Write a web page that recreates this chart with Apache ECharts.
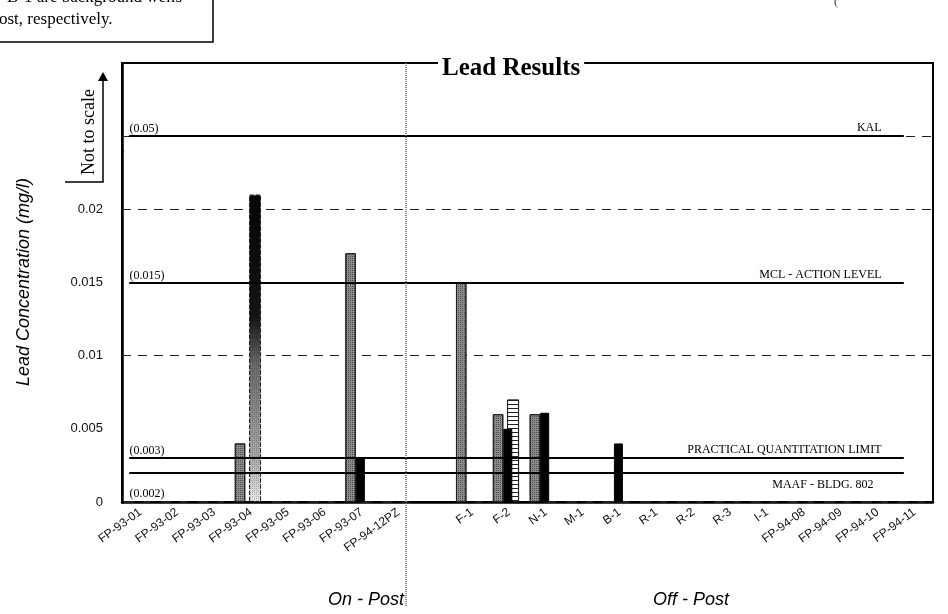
<!DOCTYPE html>
<html>
<head>
<meta charset="utf-8">
<script src="https://cdn.jsdelivr.net/npm/echarts@6/dist/echarts.min.js"></script>
<style>
  html, body { margin: 0; padding: 0; background: #fff; }
  #chart { width: 948px; height: 614px; }
</style>
</head>
<body>
<div id="chart"></div>
<script>
// Monitoring wells; the blank entry separates on-post from off-post wells
const wells = ['FP-93-01', 'FP-93-02', 'FP-93-03', 'FP-93-04', 'FP-93-05', 'FP-93-06', 'FP-93-07', 'FP-94-12PZ', '',
  'F-1', 'F-2', 'N-1', 'M-1', 'B-1', 'R-1', 'R-2', 'R-3', 'I-1', 'FP-94-08', 'FP-94-09', 'FP-94-10', 'FP-94-11'];

// Lead concentrations (mg/l), three sampling rounds
const roundStippled = [0, 0, 0, 0.004, 0, 0, 0.017, 0, null, 0.015, 0.006, 0.006, 0, 0, 0, 0, 0, 0, 0, 0, 0, 0];
const roundSolid    = [0, 0, 0, 0, 0, 0, 0.003, 0, null, 0, 0.005, 0.0061, 0, 0.004, 0, 0, 0, 0, 0, 0, 0, 0];
const roundStriped  = [0, 0, 0, 0.021, 0, 0, 0, 0, null, 0, 0.007, 0, 0, 0, 0, 0, 0, 0, 0, 0, 0, 0];

// Regulatory / reference levels (mg/l)
const limitValues = [0.05, 0.015, 0.003, 0.002];
const limitTags   = ['(0.05)', '(0.015)', '(0.003)', '(0.002)'];
const limitNames  = ['KAL', 'MCL - ACTION LEVEL', 'PRACTICAL QUANTITATION LIMIT', 'MAAF - BLDG. 802'];

// Labelled y ticks and dashed reference grid (the range above 0.02 is drawn "not to scale")
const yTickLabels = ['0', '0.005', '0.01', '0.015', '0.02'];
const gridValues = [0.005, 0.01, 0.015, 0.02, 0.05];

const serif = 'Liberation Serif';
const sans = 'Liberation Sans';

const chart = echarts.init(document.getElementById('chart'));

// Limit lines: one line per level, tag label at its start and name at its end
const limitLines = [];
limitValues.forEach((v, i) => {
  const below = i === 3;
  const first = wells[0], last = wells[wells.length - 1];
  limitLines.push([
    { coord: [first, v], label: { show: true, position: below ? 'insideStartBottom' : 'insideStartTop',
      distance: below ? [0, 15] : [0, 1], formatter: limitTags[i], fontFamily: serif, fontSize: 12, color: '#000' } },
    { coord: [last, v] }
  ]);
  limitLines.push([
    { coord: [first, v], label: { show: true, position: below ? 'insideEndBottom' : 'insideEndTop',
      distance: below ? [30, 6] : [22, 2], formatter: limitNames[i], fontFamily: serif, fontSize: 12, color: '#000' } },
    { coord: [last, v] }
  ]);
});

const stippleDecal = {
  symbol: 'rect', symbolSize: 1, dashArrayX: [1, 1], dashArrayY: [1, 1],
  color: 'rgba(30,30,30,0.6)', rotation: 0
};
const stripeDecal = {
  symbol: 'rect', symbolSize: 1, dashArrayX: [1, 0], dashArrayY: [1, 3],
  color: '#222', rotation: 0
};

// FP-93-04's tall bar reproduces as a dark fill fading toward its base
const fadedBar = {
  color: new echarts.graphic.LinearGradient(0, 0, 0, 1, [
    { offset: 0, color: '#050505' },
    { offset: 0.4, color: '#151515' },
    { offset: 0.55, color: '#6a6a6a' },
    { offset: 0.85, color: '#a8a8a8' },
    { offset: 1, color: '#e8e8e8' }
  ]),
  decal: { symbol: 'rect', symbolSize: 1, dashArrayX: [1, 1], dashArrayY: [1, 1], color: 'rgba(0,0,0,0.2)' },
  borderType: 'dashed'
};

const option = {
  animation: false,
  backgroundColor: '#fff',
  title: {
    text: 'Lead Results',
    left: 438, top: 54,
    padding: [2, 4],
    backgroundColor: '#fff',
    textStyle: { fontFamily: serif, fontWeight: 'bold', fontSize: 25, color: '#000' }
  },
  grid: {
    left: 122, right: 15, top: 63, bottom: 112,
    outerBoundsMode: 'none', containLabel: false,
    show: true, borderColor: '#000', borderWidth: 2
  },
  xAxis: [{
    type: 'category',
    data: wells,
    axisLine: { lineStyle: { color: '#000', width: 2.5 } },
    axisTick: { show: false },
    axisLabel: { interval: 0, rotate: 36, margin: 9, fontFamily: sans, fontSize: 12, color: '#111' },
    splitLine: { show: false }
  }, {
    type: 'category',
    data: wells,
    show: false
  }],
  yAxis: {
    type: 'value',
    min: 0, max: 0.055, interval: 0.005,
    breaks: [{ start: 0.024, end: 0.049, gap: 0 }],
    breakArea: { show: false },
    axisLine: { show: true, lineStyle: { color: '#000', width: 2.5 } },
    axisTick: { show: false },
    axisLabel: {
      margin: 19, fontFamily: sans, fontSize: 13, color: '#111',
      formatter: function (val) {
        const s = val === 0 ? '0' : String(parseFloat(Number(val).toFixed(4)));
        return yTickLabels.indexOf(s) >= 0 ? s : '';
      }
    },
    splitLine: { show: false }
  },
  series: [{
    name: 'Round 1',
    type: 'bar',
    xAxisIndex: 0,
    data: roundStippled,
    barWidth: 10.5,
    barGap: 0,
    z: 3,
    itemStyle: { color: '#8c8c8c', borderColor: '#222', borderWidth: 1, decal: stippleDecal },
    markLine: {
      symbol: 'none', silent: true, z: 6,
      lineStyle: { color: '#000', width: 2.2, type: 'solid' },
      data: limitLines
    }
  }, {
    name: 'Round 2',
    type: 'bar',
    xAxisIndex: 0,
    data: roundSolid,
    barWidth: 9,
    barGap: 0,
    z: 4,
    itemStyle: { color: '#000', borderColor: '#000', borderWidth: 1 }
  }, {
    // keeps the first two rounds left of each category centre
    name: 'spacer-a',
    type: 'bar',
    xAxisIndex: 0,
    data: [],
    barWidth: 13,
    barGap: 0,
    // dashed horizontal reference grid
    markLine: {
      symbol: 'none', silent: true, z: 1,
      label: { show: false },
      lineStyle: { color: '#222', width: 1.2, type: [9, 7] },
      data: gridValues.map(v => ({ yAxis: v }))
    }
  }, {
    name: 'spacer-b',
    type: 'bar',
    xAxisIndex: 1,
    data: [],
    barWidth: 8,
    barGap: 0
  }, {
    name: 'Round 3',
    type: 'bar',
    xAxisIndex: 1,
    barWidth: 12,
    barGap: 0,
    z: 2,
    data: roundStriped.map((v, i) => wells[i] === 'FP-93-04' ? { value: v, itemStyle: fadedBar } : v),
    itemStyle: { color: '#fff', borderColor: '#222', borderWidth: 1, decal: stripeDecal }
  }],
  graphic: [
    // note box in the top-left corner
    { type: 'rect', shape: { x: -3, y: -3, width: 216, height: 45 },
      style: { fill: '#fff', stroke: '#000', lineWidth: 1.5 } },
    { type: 'text', x: 7, y: -11,
      style: { text: 'B-1 are background wells', font: '17px "Liberation Serif"', fill: '#000' } },
    { type: 'text', x: -1, y: 11,
      style: { text: 'ost, respectively.', font: '17px "Liberation Serif"', fill: '#000' } },
    { type: 'text', x: 834, y: -4,
      style: { text: '(', font: '12px "Liberation Serif"', fill: '#333' } },
    // y axis title
    { type: 'text', x: 24, y: 282, rotation: Math.PI / 2,
      style: { text: 'Lead Concentration (mg/l)', font: 'italic 18px "Liberation Sans"', fill: '#000',
        align: 'center', verticalAlign: 'middle' } },
    // "Not to scale" bracket with arrow
    { type: 'polyline', shape: { points: [[65, 182], [103, 182], [103, 78]] },
      style: { stroke: '#000', lineWidth: 1.5, fill: null } },
    { type: 'polygon', shape: { points: [[98, 81], [103, 72], [108, 81]] },
      style: { fill: '#000' } },
    { type: 'text', x: 80, y: 175, rotation: Math.PI / 2,
      style: { text: 'Not to scale', font: '18px "Liberation Serif"', fill: '#000' } },
    // on-post / off-post separator and group labels
    { type: 'line', shape: { x1: 406, y1: 63, x2: 406, y2: 606 },
      style: { stroke: '#666', lineWidth: 1.5, lineDash: [1, 1] }, z: 10 },
    { type: 'text', x: 404, y: 600,
      style: { text: 'On - Post', font: 'italic 18px "Liberation Sans"', fill: '#000', align: 'right', verticalAlign: 'middle' } },
    { type: 'text', x: 691, y: 600,
      style: { text: 'Off - Post', font: 'italic 18px "Liberation Sans"', fill: '#000', align: 'center', verticalAlign: 'middle' } }
  ]
};

chart.setOption(option);
</script>
</body>
</html>
